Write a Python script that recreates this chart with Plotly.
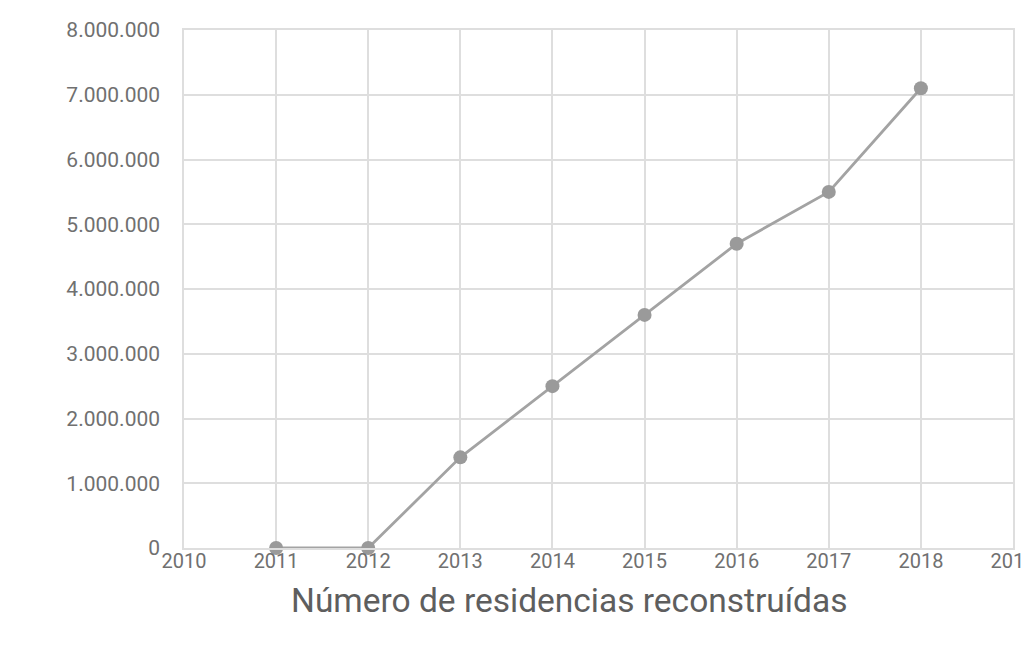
import plotly.graph_objects as go

years = [2011, 2012, 2013, 2014, 2015, 2016, 2017, 2018]
residencias = [0, 0, 1400000, 2500000, 3600000, 4700000, 5500000, 7100000]
x_ticks = list(range(2010, 2020))
y_ticks = [0, 1000000, 2000000, 3000000, 4000000, 5000000, 6000000, 7000000, 8000000]
titulo = "Número de residencias reconstruídas"

fig = go.Figure()
fig.add_trace(go.Scatter(
    x=years, y=residencias, mode="lines+markers",
    line=dict(color="#a3a3a3", width=2.8),
    marker=dict(color="#9a9a9a", size=14),
    cliponaxis=False,
))
fig.update_layout(
    width=1032, height=645,
    margin=dict(l=176, r=27, t=22, b=105, autoexpand=False),
    paper_bgcolor="white", plot_bgcolor="white",
    separators=",.",
    showlegend=False,
    font=dict(family="Roboto", color="#6e6e6e", size=16),
    annotations=[dict(
        text=titulo, xref="paper", yref="paper", x=0.4656, y=0,
        yshift=-52, xanchor="center", yanchor="middle", showarrow=False,
        font=dict(size=33.5, color="#5e5e5e"),
    )],
)
fig.update_xaxes(
    range=[2010, 2019], tickvals=x_ticks, ticktext=[str(v) for v in x_ticks],
    showgrid=True, gridcolor="#dedede", gridwidth=1.5,
    showline=True, mirror=True, linecolor="#dedede", linewidth=1.5,
    zeroline=False, ticks="", ticklabeloverflow="allow", ticklabelstandoff=-6,
    automargin=False,
    tickfont=dict(size=20, color="#707070"),
)
fig.update_yaxes(
    range=[0, 8000000], tickvals=y_ticks, tickformat=",d",
    showgrid=True, gridcolor="#dedede", gridwidth=1.5,
    showline=True, mirror=True, linecolor="#dedede", linewidth=1.5,
    zeroline=False, ticks="", ticklabelstandoff=18, automargin=False,
    tickfont=dict(size=21, color="#707070"),
)
fig.write_html("out.html")
